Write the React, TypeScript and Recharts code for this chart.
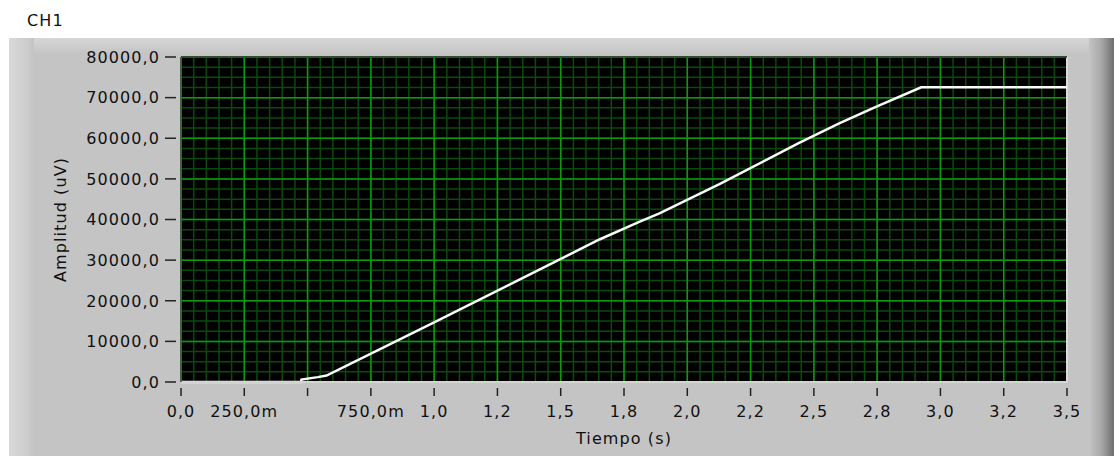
import React from 'react';
import { LineChart, Line, XAxis, YAxis, CartesianGrid, ReferenceLine } from 'recharts';

// CH1 waveform
const timeS = [0, 0.474, 0.476, 0.54, 0.575, 1.0, 1.337, 1.653, 1.81, 1.89, 2.127, 2.442, 2.6, 2.745, 2.924, 3.5];
const amplitudeUv = [0, 0, 600, 1200, 1600, 14700, 25200, 35080, 39420, 41490, 48700, 58880, 63660, 67750, 72530, 72530];

const xTicks = [0, 0.25, 0.5, 0.75, 1, 1.25, 1.5, 1.75, 2, 2.25, 2.5, 2.75, 3, 3.25, 3.5];
const xTickLabels = ['0,0', '250,0m', '', '750,0m', '1,0', '1,2', '1,5', '1,8', '2,0', '2,2', '2,5', '2,8', '3,0', '3,2', '3,5'];
const yTicks = [0, 10000, 20000, 30000, 40000, 50000, 60000, 70000, 80000];
const yTickLabels = ['0,0', '10000,0', '20000,0', '30000,0', '40000,0', '50000,0', '60000,0', '70000,0', '80000,0'];

// minor grid: 5 per major on X, 4 per major on Y
const xMinor = Array.from({ length: 71 }, (_, i) => +(i * 0.05).toFixed(2));
const yMinor = Array.from({ length: 33 }, (_, i) => i * 2500);

const data = timeS.map((t, i) => ({ t, v: amplitudeUv[i] }));

const FONT = '"DejaVu Sans", Verdana, sans-serif';
const TEXT = '#101010';

const YTick = ({ x, y, payload }: any) => {
    const idx = yTicks.indexOf(payload.value);
    return (
        <g>
            <line x1={x - 16} x2={x - 5} y1={y} y2={y} stroke="#222" strokeWidth={1.5} />
            <text x={x - 21} y={y} dy={5.8} textAnchor="end" fill={TEXT} fontFamily={FONT} fontSize={16} letterSpacing={1.1}>
                {yTickLabels[idx]}
            </text>
        </g>
    );
};

const XTick = ({ x, y, payload }: any) => {
    const idx = xTicks.indexOf(payload.value);
    return (
        <g>
            <line x1={x} x2={x} y1={y + 6} y2={y + 14} stroke="#222" strokeWidth={1.5} />
            <text x={x} y={y + 35} textAnchor="middle" fill={TEXT} fontFamily={FONT} fontSize={16} letterSpacing={1.1}>
                {xTickLabels[idx]}
            </text>
        </g>
    );
};

const XTitle = ({ viewBox }: any) => (
    <text x={viewBox.x + viewBox.width / 2} y={viewBox.y + 62} textAnchor="middle" fill={TEXT} fontFamily={FONT} fontSize={16} letterSpacing={1.1}>
        Tiempo (s)
    </text>
);

const YTitle = ({ viewBox }: any) => {
    const cx = 60;
    const cy = viewBox.y + viewBox.height / 2;
    return (
        <text x={cx} y={cy} dy={5.8} transform={`rotate(-90 ${cx} ${cy})`} textAnchor="middle" fill={TEXT} fontFamily={FONT} fontSize={16} letterSpacing={1.1}>
            Amplitud (uV)
        </text>
    );
};

export default function App() {
    return (
        <div style={{ position: 'absolute', left: 0, top: 0, width: 1114, height: 457, background: '#fff', overflow: 'hidden' }}>
            <div style={{ position: 'absolute', left: 27, top: 11, fontFamily: FONT, fontSize: 16, letterSpacing: 1.1, color: TEXT, lineHeight: '20px' }}>
                CH1
            </div>
            {/* panel frame */}
            <div style={{ position: 'absolute', left: 9, top: 38, width: 1105, height: 418, background: '#c4c4c4' }} />
            <div style={{ position: 'absolute', left: 9, top: 38, width: 1080, height: 16, background: 'linear-gradient(#d6d6d6, #c4c4c4)' }} />
            <div style={{ position: 'absolute', left: 9, top: 38, width: 25, height: 418, background: 'linear-gradient(90deg, #d8d8d8, #cdcdcd 70%, #c4c4c4)' }} />
            <div style={{ position: 'absolute', left: 1089, top: 38, width: 25, height: 418, background: 'linear-gradient(90deg, #c4c4c4, #a8a8a8 50%, #6e6e6e)' }} />

            <div style={{ position: 'absolute', left: 0, top: 0 }}>
                <LineChart width={1114} height={457} data={data} margin={{ top: 57, right: 47, bottom: 0, left: 81 }}>
                    <CartesianGrid
                        fill="#000"
                        fillOpacity={1}
                        stroke="#0a4a0a"
                        strokeWidth={1.5}
                        horizontalValues={yMinor}
                        verticalValues={xMinor}
                    />
                    <CartesianGrid stroke="#0a9a0a" strokeWidth={1.5} horizontalValues={yTicks} verticalValues={xTicks} />
                    <XAxis
                        type="number"
                        dataKey="t"
                        domain={[0, 3.5]}
                        ticks={xTicks}
                        interval={0}
                        height={75}
                        tickSize={0}
                        tickMargin={0}
                        tickLine={false}
                        axisLine={{ stroke: '#d4d4d4', strokeWidth: 2 }}
                        tick={<XTick />}
                        label={{ content: <XTitle /> }}
                    />
                    <YAxis
                        type="number"
                        domain={[0, 80000]}
                        ticks={yTicks}
                        interval={0}
                        width={100}
                        tickSize={0}
                        tickMargin={0}
                        tickLine={false}
                        axisLine={{ stroke: '#555', strokeWidth: 1.5 }}
                        tick={<YTick />}
                        label={{ content: <YTitle /> }}
                    />
                    <ReferenceLine x={3.5} stroke="#dcdcdc" strokeWidth={2} />
                    <ReferenceLine y={80000} stroke="#3a3a3a" strokeWidth={1.5} />
                    <Line
                        type="linear"
                        dataKey="v"
                        stroke="#fafafa"
                        strokeWidth={2.5}
                        dot={false}
                        isAnimationActive={false}
                    />
                </LineChart>
            </div>
        </div>
    );
}
